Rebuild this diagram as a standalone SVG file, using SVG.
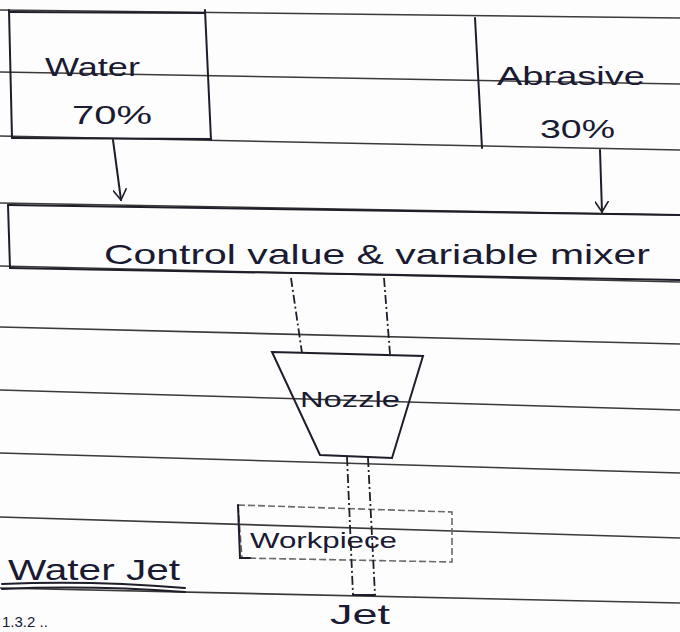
<svg xmlns="http://www.w3.org/2000/svg" width="680" height="632" viewBox="0 0 680 632">
<defs>
<style>
.rule{stroke:#3a3a3a;stroke-width:1.6;fill:none}
.pen{stroke:#1e1e2a;stroke-width:2;fill:none;stroke-linecap:round}
.faint{stroke:#6a6a6a;stroke-width:1.6;fill:none;stroke-dasharray:7 3}
.dash{stroke:#1e1e2a;stroke-width:1.8;fill:none;stroke-dasharray:9 3 2 3}
.hw{font-family:"Liberation Sans",Arial,sans-serif;fill:#1a1a33}
</style>
<marker id="vhead" viewBox="0 0 12 14" refX="11" refY="7" markerWidth="12" markerHeight="14" markerUnits="userSpaceOnUse" orient="auto">
<path d="M0 0 L11 7 L0 14" fill="none" stroke="#1e1e2a" stroke-width="1.6"/>
</marker>
</defs>
<rect width="680" height="632" fill="#fdfdfd"/>
<g id="paper-lines">
<path class="rule" d="M0 10 L680 18"/>
<path class="rule" d="M0 72 L680 84"/>
<path class="rule" d="M0 136 L680 150"/>
<path class="rule" d="M0 203 L680 215"/>
<path class="rule" d="M0 266 L680 282"/>
<path class="rule" d="M0 327 L680 344"/>
<path class="rule" d="M0 390 L680 410"/>
<path class="rule" d="M0 453 L680 473"/>
<path class="rule" d="M0 517 L680 538"/>
<path class="rule" d="M0 588 L680 603"/>
</g>
<g id="water">
<path class="pen" d="M9 10 L12 138"/>
<path class="pen" d="M10 12 L205 13"/>
<path class="pen" d="M205 10 L211 140"/>
<path class="pen" d="M12 138 L211 139"/>
<text class="hw" x="45" y="76" font-size="26" textLength="95" lengthAdjust="spacingAndGlyphs">Water</text>
<text class="hw" x="72" y="124" font-size="26" textLength="80" lengthAdjust="spacingAndGlyphs">70%</text>
</g>
<g id="abrasive">
<path class="pen" d="M475 18 L482 148"/>
<text class="hw" x="497" y="85" font-size="26" textLength="148" lengthAdjust="spacingAndGlyphs">Abrasive</text>
<text class="hw" x="540" y="138" font-size="26" textLength="75" lengthAdjust="spacingAndGlyphs">30%</text>
</g>
<g id="mixer">
<path class="pen" d="M8 205 L10 268"/>
<path class="pen" d="M8 205 L680 215"/>
<path class="pen" d="M10 268 L680 280"/>
<text class="hw" x="104" y="264" font-size="28" textLength="546" lengthAdjust="spacingAndGlyphs">Control value &amp; variable mixer</text>
</g>
<g id="nozzle">
<path class="pen" d="M272 352 L423 356 L392 458 L320 455 Z" stroke-width="1.6"/>
<text class="hw" x="300" y="407" font-size="22" textLength="100" lengthAdjust="spacingAndGlyphs">Nozzle</text>
</g>
<g id="workpiece">
<path class="faint" d="M238 505 L452 512 L452 562 L242 558 Z"/>
<path class="pen" d="M238 505 L240 558 L250 558"/>
<text class="hw" x="250" y="548" font-size="22" textLength="147" lengthAdjust="spacingAndGlyphs">Workpiece</text>
</g>
<g id="jet">
<text class="hw" x="330" y="624" font-size="28" textLength="60" lengthAdjust="spacingAndGlyphs">Jet</text>
</g>
<g id="title">
<text class="hw" x="8" y="580" font-size="30" textLength="172" lengthAdjust="spacingAndGlyphs">Water Jet</text>
<path class="pen" d="M2 584 Q90 580 185 588" stroke-width="1.6"/>
<path class="pen" d="M2 589 Q90 585 185 592" stroke-width="1.2"/>
<text class="hw" x="2" y="627" font-size="15">1.3.2 ..</text>
</g>
<g id="connectors">
<path class="pen" d="M113 140 L121 200" marker-end="url(#vhead)"/>
<path class="pen" d="M600 150 L602 212" marker-end="url(#vhead)"/>
<path class="dash" d="M291 278 L302 353"/>
<path class="dash" d="M384 278 L390 354"/>
<path class="dash" d="M347 457 L353 595"/>
<path class="dash" d="M368 458 L375 595"/>
<path class="pen" d="M353 595 L375 595" stroke-width="1.4"/>
</g>
</svg>
